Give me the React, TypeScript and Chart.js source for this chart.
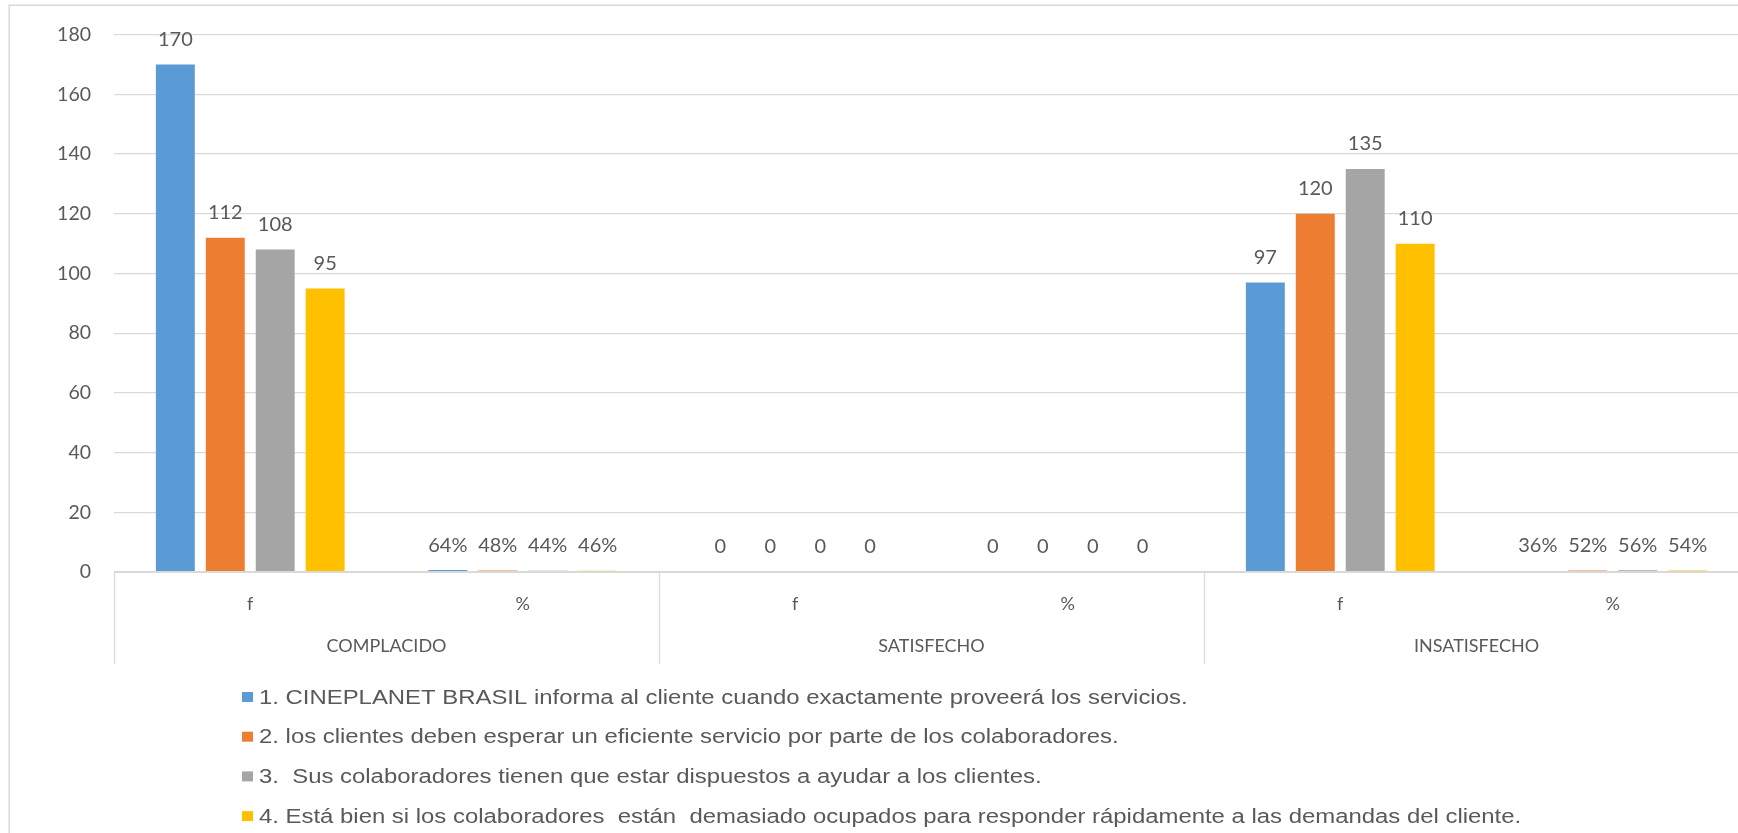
import React, { useEffect, useRef } from 'react';
import { Chart, registerables } from 'chart.js';

Chart.register(...registerables);

// Sub-categories under each satisfaction level (frequency and percentage)
const categories = ['f', '%', 'f', '%', 'f', '%'];
const groups = ['COMPLACIDO', 'SATISFECHO', 'INSATISFECHO'];
// How each category's value label is written
const labelFormats = ['count', 'percent', 'count', 'count', 'count', 'percent'];

const seriesNames = [
  '1. CINEPLANET BRASIL informa al cliente cuando exactamente proveerá los servicios.',
  '2. los clientes deben esperar un eficiente servicio por parte de los colaboradores.',
  '3.  Sus colaboradores tienen que estar dispuestos a ayudar a los clientes.',
  '4. Está bien si los colaboradores  están  demasiado ocupados para responder rápidamente a las demandas del cliente.',
];
const item1 = [170, 0.64, 0, 0, 97, 0.36];
const item2 = [112, 0.48, 0, 0, 120, 0.52];
const item3 = [108, 0.44, 0, 0, 135, 0.56];
const item4 = [95, 0.46, 0, 0, 110, 0.54];
const seriesValues = [item1, item2, item3, item4];
const seriesColors = ['#5B9BD5', '#ED7D31', '#A5A5A5', '#FFC000'];

const yMin = 0;
const yMax = 180;
const yStep = 20;

const CANVAS_W = 1770;
const CANVAS_H = 880;
const TEXT = '#595959';
const LINE = '#d9d9d9';
const NUM_FONT = 'Lato, "Open Sans", sans-serif';
const LEGEND_FONT = '"Liberation Sans", Arial, sans-serif';
// the legend lettering is set a little wider than the font's natural width
const LEGEND_STRETCH = 1.195;

function formatValue(v: number, kind: string): string {
  if (kind === 'percent') return `${Math.round(v * 100)}%`;
  return String(v);
}

const decorations = {
  id: 'decorations',
  beforeDraw(chart: any) {
    const { ctx } = chart;
    ctx.save();
    ctx.fillStyle = '#ffffff';
    ctx.fillRect(0, 0, chart.width, chart.height);
    ctx.strokeStyle = LINE;
    ctx.lineWidth = 1.5;
    ctx.strokeRect(9.25, 5.25, chart.width + 50, chart.height + 50);
    ctx.restore();
  },
  afterDatasetsDraw(chart: any) {
    const { ctx } = chart;
    ctx.save();
    ctx.font = `20px ${NUM_FONT}`;
    ctx.fillStyle = TEXT;
    ctx.textAlign = 'center';
    ctx.textBaseline = 'middle';
    chart.data.datasets.forEach((ds: any, i: number) => {
      const meta = chart.getDatasetMeta(i);
      meta.data.forEach((bar: any, j: number) => {
        const v = ds.data[j];
        ctx.fillText(formatValue(v, labelFormats[j]), bar.x, bar.y - 25);
      });
    });
    ctx.restore();
  },
  afterDraw(chart: any) {
    const { ctx } = chart;
    const xs = chart.scales.x;
    const catW = (xs.right - xs.left) / categories.length;
    const per = categories.length / groups.length;
    ctx.save();
    // horizontal axis line, drawn over the bars like a spreadsheet chart
    ctx.strokeStyle = LINE;
    ctx.lineWidth = 2;
    ctx.beginPath();
    ctx.moveTo(xs.left, xs.top);
    ctx.lineTo(xs.right, xs.top);
    ctx.stroke();
    // group separators below the axis
    ctx.lineWidth = 1.3;
    for (let g = 0; g <= groups.length; g++) {
      const x = Math.round(xs.left + g * per * catW) + 0.5;
      ctx.beginPath();
      ctx.moveTo(x, xs.top);
      ctx.lineTo(x, xs.bottom);
      ctx.stroke();
    }
    // group names
    ctx.font = `18px ${NUM_FONT}`;
    ctx.fillStyle = TEXT;
    ctx.textAlign = 'center';
    ctx.textBaseline = 'middle';
    groups.forEach((name, g) => {
      const cx = xs.left + (g + 0.5) * per * catW;
      ctx.fillText(name, cx, xs.top + 74);
    });
    // legend
    ctx.font = `20px ${LEGEND_FONT}`;
    ctx.textAlign = 'left';
    chart.data.datasets.forEach((ds: any, i: number) => {
      const cy = xs.bottom + 33 + i * 39.7;
      const lx = chart.chartArea.left + 128;
      ctx.fillStyle = ds.backgroundColor;
      ctx.fillRect(lx, cy - 5, 11, 10);
      ctx.fillStyle = TEXT;
      ctx.save();
      ctx.translate(lx + 17, cy + 1);
      ctx.scale(LEGEND_STRETCH, 1);
      ctx.fillText(ds.label, 0, 0);
      ctx.restore();
    });
    ctx.restore();
  },
};

export default function App() {
  const canvasRef = useRef<HTMLCanvasElement | null>(null);

  useEffect(() => {
    const canvas = canvasRef.current;
    if (!canvas) return;
    const chart = new Chart(canvas, {
      type: 'bar',
      data: {
        labels: categories,
        datasets: seriesValues.map((vals, i) => ({
          label: seriesNames[i],
          data: vals,
          backgroundColor: seriesColors[i],
          borderWidth: 0,
          categoryPercentage: 0.733,
          barPercentage: 0.78,
        })),
      },
      options: {
        responsive: false,
        animation: false,
        devicePixelRatio: 1,
        layout: {
          padding: { left: 0, top: 32, right: CANVAS_W - 1749, bottom: CANVAS_H - 664 },
        },
        plugins: {
          legend: { display: false },
          tooltip: { enabled: false },
          title: { display: false },
        },
        scales: {
          x: {
            grid: { display: false },
            border: { display: false },
            ticks: {
              color: TEXT,
              font: { family: NUM_FONT, size: 18 },
              padding: 13,
              maxRotation: 0,
              autoSkip: false,
            },
            afterFit: (scale: any) => {
              scale.height = 92;
            },
          },
          y: {
            min: yMin,
            max: yMax,
            grid: { color: LINE, lineWidth: 1.3, drawTicks: false },
            border: { display: false },
            ticks: {
              stepSize: yStep,
              color: TEXT,
              font: { family: NUM_FONT, size: 19.5 },
              padding: 23,
            },
            afterFit: (scale: any) => {
              scale.width = 114;
            },
          },
        },
      },
      plugins: [decorations],
    });
    return () => chart.destroy();
  }, []);

  return (
    <div
      style={{
        position: 'fixed',
        left: 0,
        top: 0,
        width: '100vw',
        height: '100vh',
        overflow: 'hidden',
        background: '#ffffff',
      }}
    >
      <canvas
        ref={canvasRef}
        width={CANVAS_W}
        height={CANVAS_H}
        style={{ position: 'absolute', left: 0, top: 0, width: CANVAS_W, height: CANVAS_H }}
      />
    </div>
  );
}
